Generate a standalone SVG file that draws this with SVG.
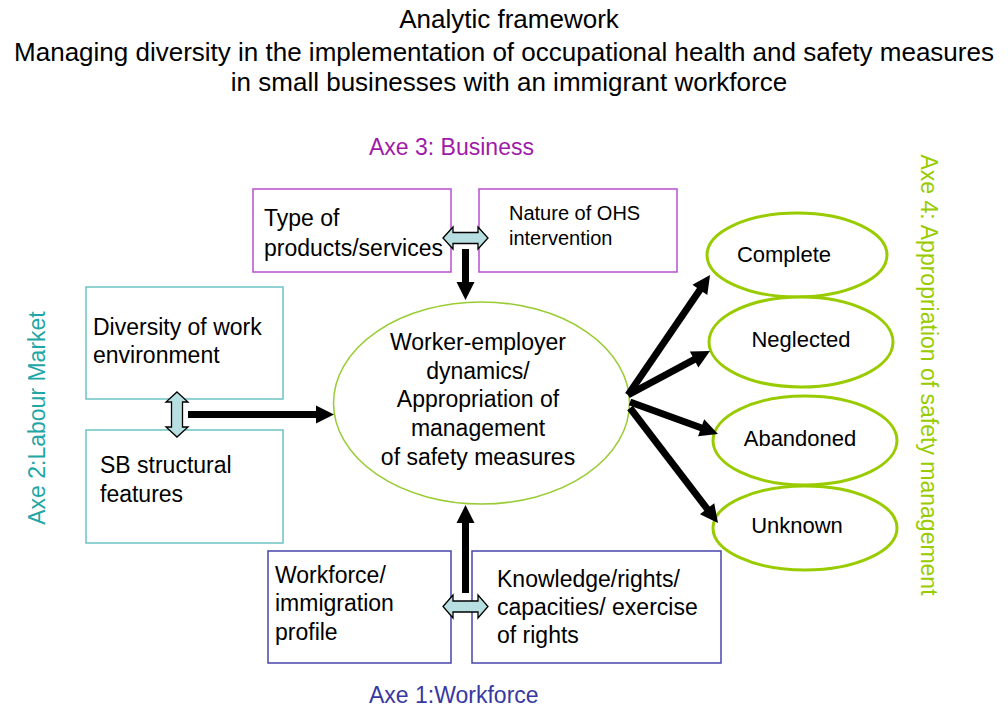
<svg xmlns="http://www.w3.org/2000/svg" width="1008" height="707" viewBox="0 0 1008 707">
  <style>
    text { font-family: "Liberation Sans", Arial, sans-serif; fill: #000; }
    .title { font-size: 26px; text-anchor: middle; }
    .t23 { font-size: 23px; }
    .t22 { font-size: 22px; }
    .t20 { font-size: 20px; }
    .mid { text-anchor: middle; }
    .box-biz { fill: #fff; stroke: #b84fd0; stroke-width: 1.5; }
    .box-lab { fill: #fff; stroke: #6cc2c2; stroke-width: 1.5; }
    .box-wf { fill: #fff; stroke: #4646aa; stroke-width: 1.5; }
    .core { fill: #fff; stroke: #99cc33; stroke-width: 1.5; }
    .out { fill: #fff; stroke: #99cc00; stroke-width: 3; }
    .axe-biz { fill: #a01aa8; font-size: 23px; }
    .axe-wf { fill: #3838a2; font-size: 23px; }
    .axe-lab { fill: #1fa6a6; font-size: 23px; }
    .axe-app { fill: #99cc00; font-size: 23px; }
    .flow { fill: none; stroke: #000; stroke-width: 7; marker-end: url(#head); }
    .dbl { fill: #b7dfe1; stroke: #000; stroke-width: 1.3; stroke-linejoin: miter; }
  </style>
  <defs>
    <marker id="head" markerUnits="userSpaceOnUse" markerWidth="18" markerHeight="18" viewBox="0 0 18 18" refX="2" refY="9" orient="auto" overflow="visible">
      <path d="M0,0 L18,9 L0,18 z" fill="#000"/>
    </marker>
  </defs>

  <rect width="1008" height="707" fill="#fff"/>

  <!-- Title -->
  <g id="title">
    <text class="title" x="509" y="28">Analytic framework</text>
    <text class="title" x="504" y="61">Managing diversity in the implementation of occupational health and safety measures</text>
    <text class="title" x="509" y="91">in small businesses with an immigrant workforce</text>
  </g>

  <!-- Axis labels -->
  <g id="axis-labels">
    <text class="axe-biz" x="369" y="155">Axe 3: Business</text>
    <text class="axe-wf" x="369" y="703">Axe 1:Workforce</text>
    <text class="axe-lab mid" transform="translate(45,418) rotate(-90)">Axe 2:Labour Market</text>
    <text class="axe-app mid" transform="translate(921,375) rotate(90)">Axe 4: Appropriation of safety management</text>
  </g>

  <!-- Axe 3: business boxes -->
  <g id="type-products">
    <rect class="box-biz" x="253" y="189" width="198" height="83"/>
    <text class="t23" x="264" y="226">Type of</text>
    <text class="t23" x="264" y="256">products/services</text>
  </g>
  <g id="nature-ohs">
    <rect class="box-biz" x="479" y="189" width="198" height="83"/>
    <text class="t20" x="509" y="220">Nature of OHS</text>
    <text class="t20" x="509" y="245">intervention</text>
  </g>

  <!-- Axe 2: labour market boxes -->
  <g id="diversity-work">
    <rect class="box-lab" x="86" y="287" width="197" height="112"/>
    <text class="t23" x="93" y="335">Diversity of work</text>
    <text class="t23" x="93" y="363">environment</text>
  </g>
  <g id="sb-features">
    <rect class="box-lab" x="86" y="430" width="197" height="113"/>
    <text class="t23" x="100" y="473">SB structural</text>
    <text class="t23" x="100" y="502">features</text>
  </g>

  <!-- Axe 1: workforce boxes -->
  <g id="workforce-profile">
    <rect class="box-wf" x="268" y="551" width="183" height="112"/>
    <text class="t23" x="275" y="583">Workforce/</text>
    <text class="t23" x="275" y="611">immigration</text>
    <text class="t23" x="275" y="640">profile</text>
  </g>
  <g id="knowledge-rights">
    <rect class="box-wf" x="472" y="551" width="249" height="112"/>
    <text class="t23" x="497" y="587">Knowledge/rights/</text>
    <text class="t23" x="497" y="615">capacities/ exercise</text>
    <text class="t23" x="497" y="643">of rights</text>
  </g>

  <!-- Central dynamics -->
  <g id="dynamics">
    <ellipse class="core" cx="481.5" cy="403" rx="148" ry="101"/>
    <text class="t23 mid" x="478" y="350">Worker-employer</text>
    <text class="t23 mid" x="478" y="379">dynamics/</text>
    <text class="t23 mid" x="478" y="407">Appropriation of</text>
    <text class="t23 mid" x="478" y="436">management</text>
    <text class="t23 mid" x="478" y="465">of safety measures</text>
  </g>

  <!-- Axe 4: outcomes -->
  <g id="complete">
    <ellipse class="out" cx="797" cy="255" rx="90" ry="42"/>
    <text class="t22 mid" x="784" y="262">Complete</text>
  </g>
  <g id="neglected">
    <ellipse class="out" cx="801" cy="342" rx="92" ry="45"/>
    <text class="t22 mid" x="801" y="347">Neglected</text>
  </g>
  <g id="abandoned">
    <ellipse class="out" cx="805" cy="440.5" rx="92" ry="44.5"/>
    <text class="t22 mid" x="800" y="446">Abandoned</text>
  </g>
  <g id="unknown">
    <ellipse class="out" cx="805" cy="528" rx="92" ry="42"/>
    <text class="t22 mid" x="797" y="533">Unknown</text>
  </g>

  <!-- Connectors -->
  <g id="connectors">
    <!-- influences into the central dynamics -->
    <path class="flow" d="M465.5,249 L465.5,284"/>
    <path class="flow" d="M465.5,593 L465.5,521"/>
    <path class="flow" d="M188,414.5 L318,414.5"/>
    <!-- outcomes -->
    <path class="flow" d="M628,395 L701,288.2"/>
    <path class="flow" d="M628,395 L695.9,358.6"/>
    <path class="flow" d="M630,402 L703,428.5"/>
    <path class="flow" d="M630,408 L708.3,510.3"/>
    <!-- two-way links within each axis -->
    <polygon class="dbl" points="443,238 453,227 453,232.5 478,232.5 478,227 488,238 478,249 478,243.5 453,243.5 453,249"/>
    <polygon class="dbl" points="443,606.5 453,595 453,601 478,601 478,595 488,606.5 478,618 478,612 453,612 453,618"/>
    <polygon class="dbl" points="177,392 188,402 182.5,402 182.5,427 188,427 177,437 166,427 171.5,427 171.5,402 166,402"/>
  </g>
</svg>
